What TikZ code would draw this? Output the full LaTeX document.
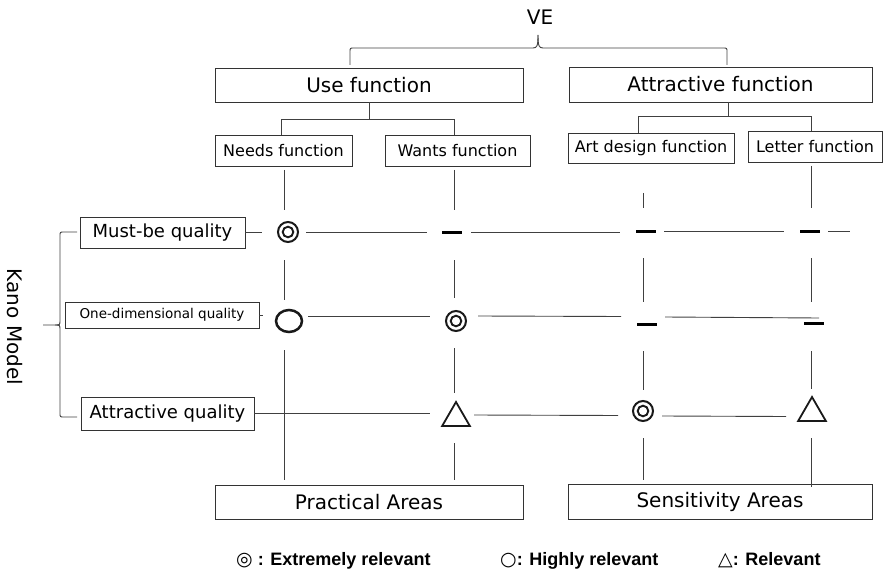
\documentclass[tikz,border=0pt]{standalone}
\usepackage{fontspec}
\setmainfont{DejaVu Sans}
\newfontfamily\legf{Liberation Sans}
\newfontfamily\symf{DejaVu Sans}
\usetikzlibrary{shapes.geometric,calc}
\newcommand\fsz[1]{\fontsize{#1}{#1}\selectfont}
\tikzset{
  fb/.style={draw=black!80, line width=0.9pt, inner sep=0pt, align=center},
  ln/.style={draw=black!75, line width=0.9pt},
  dsh/.style={fill=black, minimum width=20pt, minimum height=3pt, inner sep=0pt},
  dcirc/.style={circle, draw=black!90, line width=2pt, minimum size=20pt, inner sep=0pt,
    path picture={\draw[line width=1.9pt, black!90] (path picture bounding box.center) circle[radius=5.3pt];}},
  bigO/.style={ellipse, draw=black!90, line width=2.5pt, minimum width=26pt, minimum height=22pt, inner sep=0pt},
  tri/.style={regular polygon, regular polygon sides=3, draw=black!90, line width=1.8pt, minimum size=32pt, inner sep=0pt},
  leg/.style={anchor=base west, inner sep=0pt, font=\legf\bfseries\fsz{18}}
}
\begin{document}
\begin{tikzpicture}[x=1pt,y=-1pt]
\useasboundingbox (0,0) rectangle (883,572);

% top
\node[font=\fsz{20}] (ve) at (540,17) {VE};
\draw[ln] (350,65) -- (350,52) .. controls (350,48) .. (354,48) -- (533,48)
  .. controls (537,48) and (538,46) .. (538,35);
\draw[ln] (538,35) .. controls (538,46) and (539,48) .. (543,48) -- (723,48)
  .. controls (727,48) .. (727,52) -- (727,65);

\node[fb, minimum width=308pt, minimum height=34pt, font=\fsz{20}] (use) at (369,85) {Use function};
\node[fb, minimum width=303pt, minimum height=35pt, font=\fsz{20}] (attr) at (720.5,84.5) {Attractive function};

\node[fb, minimum width=137pt, minimum height=31pt, font=\fsz{16}] (needs) at (283.5,150.5) {Needs function};
\node[fb, minimum width=145pt, minimum height=31pt, font=\fsz{16}] (wants) at (457.5,150.5) {Wants function};
\node[fb, minimum width=166pt, minimum height=30pt, font=\fsz{16}] (art) at (651,148) {Art design function};
\node[fb, minimum width=134pt, minimum height=31pt, font=\fsz{16}] (letter) at (815,146.5) {Letter function};

\coordinate (uj) at (369,119);
\draw[ln] (use.south) -- (uj);
\draw[ln] (281,135) -- (281,119) -- (454,119) -- (454,135);
\coordinate (aj) at (728,116);
\draw[ln] (728,102) -- (aj);
\draw[ln] (638,133) -- (638,116) -- (811,116) -- (811,131);

% left
\node[rotate=-90, font=\fsz{20}] (kano) at (15,327) {Kano Model};
\draw[ln] (77,232) -- (64,232) .. controls (60,232) .. (60,236) -- (60,320)
  .. controls (60,325) .. (55,325) -- (43,325);
\draw[ln] (55,325) .. controls (60,325) .. (60,330) -- (60,413)
  .. controls (60,417) .. (64,417) -- (77,417);

\node[fb, minimum width=165pt, minimum height=31pt, font=\fsz{18}] (mustbe) at (162.5,232.5) {Must-be quality};
\node[fb, minimum width=194pt, minimum height=26pt, font=\fsz{13.5}] (onedim) at (162,315) {One-dimensional quality};
\node[fb, minimum width=173pt, minimum height=33pt, font=\fsz{18}] (attrq) at (167.5,413.5) {Attractive quality};

% symbols
\node[dcirc] (s11) at (288,232) {};
\node[dsh] (s12) at (452,232) {};
\node[dsh] (s13) at (645.5,231.5) {};
\node[dsh] (s14) at (809.5,231.5) {};
\node[bigO] (s21) at (289,321) {};
\node[dcirc] (s22) at (456,321) {};
\node[dsh] (s23) at (646.5,324) {};
\node[dsh] (s24) at (813.5,323.5) {};
\node[tri] (s32) at (456,418) {};
\node[dcirc] (s33) at (643,411) {};
\node[tri] (s34) at (812,413) {};

% row lines
\draw[ln] (mustbe.east) -- (262,232.5);
\draw[ln] (306,232) -- (427,232);
\draw[ln] (471,232) -- (620,232);
\draw[ln] (664,231.5) -- (784,231.5);
\draw[ln] (828,231) -- (850,231);

\draw[ln] (onedim.east) -- (263,315);
\draw[ln] (308,316) -- (430,316);
\draw[ln] (478,316) -- (621,316.5);
\draw[ln] (665,317) -- (819,318);

\draw[ln] (attrq.east) -- (430,413.5);
\draw[ln] (474,415) -- (618,415.5);
\draw[ln] (662,416) -- (786,416.5);

% bottom boxes
\node[fb, minimum width=308pt, minimum height=34pt, font=\fsz{20}] (prac) at (369,502) {Practical Areas};
\node[fb, minimum width=304pt, minimum height=35pt, font=\fsz{20}] (sens) at (720,501.5) {Sensitivity Areas};

% columns
\draw[ln] (284,170) -- (284,210);
\draw[ln] (284,260) -- (284,300);
\draw[ln] (284,350) -- (284,480);

\draw[ln] (454,170) -- (454,210);
\draw[ln] (454,260) -- (454,298);
\draw[ln] (454,348) -- (454,393);
\draw[ln] (454,443) -- (454,480);

\draw[ln] (643,193) -- (643,208);
\draw[ln] (643,258) -- (643,302);
\draw[ln] (643,351) -- (643,390);
\draw[ln] (643,438) -- (643,480);

\draw[ln] (811,166) -- (811,208);
\draw[ln] (811,258) -- (811,302);
\draw[ln] (811,351) -- (811,389);
\draw[ln] (811,438) -- (811,487);

% legend
\node[leg] (leg1) at (236,565) {{\symf\bfseries\fsz{19}◎} : Extremely relevant};
\node[leg] (leg2) at (500,565) {{\symf\bfseries\fsz{19}○}: Highly relevant};
\node[leg] (leg3) at (718,565) {{\symf\bfseries\fsz{19}△}: Relevant};
\end{tikzpicture}
\end{document}
